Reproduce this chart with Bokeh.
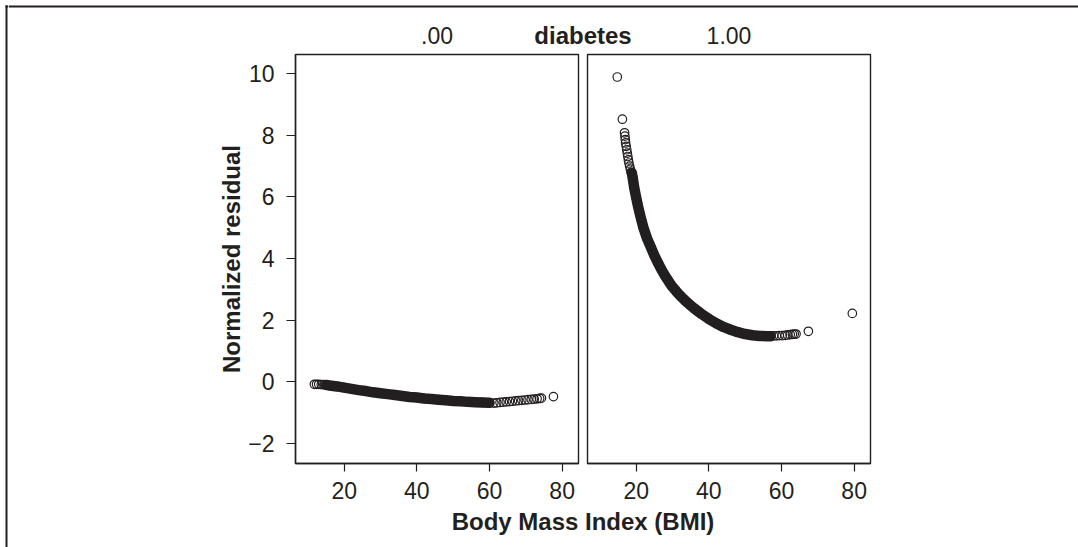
from bokeh.plotting import figure
from bokeh.models import Range1d, Label, Span, FixedTicker
from bokeh.layouts import row, column
from bokeh.embed import file_html
from bokeh.resources import INLINE

# ---------------- data ----------------
facet_name = "diabetes"
panel_titles = [".00", "1.00"]
x_label = "Body Mass Index (BMI)"
y_label = "Normalized residual"
x_ticks = [20, 40, 60, 80]
y_ticks = [-2, 0, 2, 4, 6, 8, 10]

# diabetes = .00
bmi_0_sparse_lo = [11.8, 12.4, 13.0, 13.7, 14.4]
res_0_sparse_lo = [-0.08, -0.08, -0.08, -0.09, -0.09]
bmi_0_dense = [15, 16, 18, 20, 22, 24, 26, 28, 30, 32, 34, 36, 38, 40, 42, 44,
               46, 48, 50, 52, 54, 56, 58, 60]
res_0_dense = [-0.10, -0.12, -0.15, -0.19, -0.23, -0.27, -0.30, -0.34, -0.37,
               -0.40, -0.43, -0.46, -0.49, -0.51, -0.54, -0.56, -0.58, -0.60,
               -0.62, -0.63, -0.65, -0.66, -0.67, -0.68]
bmi_0_sparse_hi = [61.2, 62.0, 62.9, 63.8, 64.6, 65.5, 66.3, 67.2, 68.0, 68.9,
                   69.8, 70.6, 71.5, 72.3, 73.1, 73.8, 74.3, 77.6]
res_0_sparse_hi = [-0.69, -0.68, -0.67, -0.66, -0.65, -0.64, -0.63, -0.62, -0.61,
                   -0.60, -0.59, -0.58, -0.57, -0.56, -0.55, -0.54, -0.53, -0.48]

# diabetes = 1.00
bmi_1_sparse_lo = [14.8, 16.2, 16.8, 16.9, 17.0, 17.1, 17.25, 17.4, 17.55, 17.7,
                   17.85, 18.0, 18.2, 18.4, 18.6]
res_1_sparse_lo = [9.89, 8.52, 8.08, 7.97, 7.86, 7.75, 7.64, 7.53, 7.42, 7.31,
                   7.20, 7.10, 7.00, 6.90, 6.80]
bmi_1_dense = [18.8, 19.0, 19.5, 20, 20.5, 21, 21.5, 22, 23, 24, 25, 26, 27, 28,
               29, 30, 31, 32, 33, 34, 35, 36, 37, 38, 40, 42, 44, 46, 48, 50,
               52, 54, 56, 57]
res_1_dense = [6.78, 6.65, 6.27, 5.98, 5.70, 5.45, 5.22, 5.00, 4.65, 4.38, 4.10,
               3.86, 3.63, 3.43, 3.25, 3.08, 2.94, 2.81, 2.69, 2.58, 2.48, 2.38,
               2.29, 2.20, 2.04, 1.90, 1.78, 1.69, 1.61, 1.55, 1.51, 1.49, 1.48,
               1.48]
bmi_1_sparse_hi = [57.8, 58.6, 59.4, 60.2, 61.0, 61.7, 62.4, 63.0, 63.5, 64.0,
                   67.4, 79.5]
res_1_sparse_hi = [1.49, 1.49, 1.50, 1.50, 1.51, 1.52, 1.53, 1.54, 1.55, 1.55,
                   1.64, 2.22]

# ---------------- styling / layout ----------------
W, H = 1078, 547
INK = "#231f20"
FONT = "Liberation Sans"
TICK_SIZE = "23px"
TITLE_SIZE = "24px"
X_RANGE = (6.6, 84.5)
Y_RANGE = (-2.65, 10.62)
EDGE_W = 8           # thin left strip carrying the outer frame line
HEAD_H = 53          # page y 0..53
BODY_H = 452         # page y 53..505
FOOT_H = H - HEAD_H - BODY_H
FRAME_W, FRAME_H = 283, 409
P1_W = 582 - EDGE_W
P2_W = W - 582


def canvas(w, h, x0, y0):
    """A figure whose frame is its whole canvas, in page pixel coordinates."""
    f = figure(width=w, height=h, output_backend="svg", toolbar_location=None,
               x_range=Range1d(x0, x0 + w), y_range=Range1d(y0 + h, y0),
               min_border=0, x_axis_location=None, y_axis_location=None,
               title=None)
    f.outline_line_color = None
    f.grid.visible = False
    return f


def panel(w, left, show_y):
    right = w - left - FRAME_W
    p = figure(width=w, height=BODY_H, frame_width=FRAME_W, frame_height=FRAME_H,
               output_backend="svg", toolbar_location=None,
               x_range=Range1d(*X_RANGE), y_range=Range1d(*Y_RANGE),
               min_border_left=left, min_border_right=right,
               min_border_top=1, min_border_bottom=BODY_H - FRAME_H - 1,
               y_axis_location="left" if show_y else None, title=None)
    p.outline_line_color = INK
    p.outline_line_width = 1.4
    p.grid.visible = False
    axes = [p.xaxis[0]] + ([p.yaxis[0]] if show_y else [])
    for ax in axes:
        ax.axis_line_color = INK
        ax.axis_line_width = 1.4
        ax.major_tick_line_color = INK
        ax.major_tick_line_width = 1.2
        ax.major_tick_in = 0
        ax.minor_tick_line_color = None
        ax.major_label_text_font = FONT
        ax.major_label_text_font_size = TICK_SIZE
        ax.major_label_text_color = INK
    p.xaxis.ticker = FixedTicker(ticks=x_ticks)
    p.xaxis.major_tick_out = 8
    p.xaxis.major_label_standoff = 10
    if show_y:
        p.yaxis.ticker = FixedTicker(ticks=y_ticks)
        p.yaxis.major_tick_out = 9
        p.yaxis.major_label_standoff = 12
        p.yaxis.major_label_overrides = {t: ("\u2212" + str(-t) if t < 0 else str(t))
                                         for t in y_ticks}
        p.yaxis.axis_label = y_label
        p.yaxis.axis_label_text_font = FONT
        p.yaxis.axis_label_text_font_size = TITLE_SIZE
        p.yaxis.axis_label_text_font_style = "bold"
        p.yaxis.axis_label_text_color = INK
        p.yaxis.axis_label_standoff = 0
    return p


def draw(p, xs_d, ys_d, sparse_sets):
    # the dense cloud of overlapping markers renders as a solid band
    p.line(xs_d, ys_d, line_width=10.5, line_color=INK, line_join="round",
           line_cap="round")
    p.scatter(xs_d, ys_d, marker="circle", size=8.5, fill_color=None,
              line_color=INK, line_width=1.2)
    for xs, ys in sparse_sets:
        p.scatter(xs, ys, marker="circle", size=8.5, fill_color=None,
                  line_color=INK, line_width=1.2)


p1 = panel(P1_W, 295 - EDGE_W, True)
draw(p1, bmi_0_dense, res_0_dense,
     [(bmi_0_sparse_lo, res_0_sparse_lo), (bmi_0_sparse_hi, res_0_sparse_hi)])
p2 = panel(P2_W, 587 - 582, False)
draw(p2, bmi_1_dense, res_1_dense,
     [(bmi_1_sparse_lo, res_1_sparse_lo), (bmi_1_sparse_hi, res_1_sparse_hi)])

# left edge: outer frame line
edge = canvas(EDGE_W, H, 0, 0)
edge.segment(x0=[6, 5], y0=[5, 6], x1=[6, EDGE_W], y1=[H, 6], line_color=INK,
             line_width=2)

# header: outer frame top line and strip titles
head = canvas(W - EDGE_W, HEAD_H, EDGE_W, 0)
head.add_layout(Span(location=6, dimension="width", line_color=INK, line_width=2))
centers = [295 + FRAME_W / 2, 587 + FRAME_W / 2]
for cx, t in zip(centers, panel_titles):
    head.add_layout(Label(x=cx, y=35, text=t, text_align="center",
                          text_baseline="middle", text_font=FONT,
                          text_font_size=TICK_SIZE, text_color=INK))
head.add_layout(Label(x=582.5, y=34.5, text=facet_name, text_align="center",
                      text_baseline="middle", text_font=FONT,
                      text_font_size=TITLE_SIZE, text_font_style="bold",
                      text_color=INK))

# footer: x-axis title shared by both panels
foot = canvas(W - EDGE_W, FOOT_H, EDGE_W, HEAD_H + BODY_H)
foot.add_layout(Label(x=582.5, y=521, text=x_label, text_align="center",
                      text_baseline="middle", text_font=FONT,
                      text_font_size=TITLE_SIZE, text_font_style="bold",
                      text_color=INK))

layout = row(edge, column(head, row(p1, p2, spacing=0), foot, spacing=0),
             spacing=0)
open("out.html", "w").write(file_html(layout, INLINE))
